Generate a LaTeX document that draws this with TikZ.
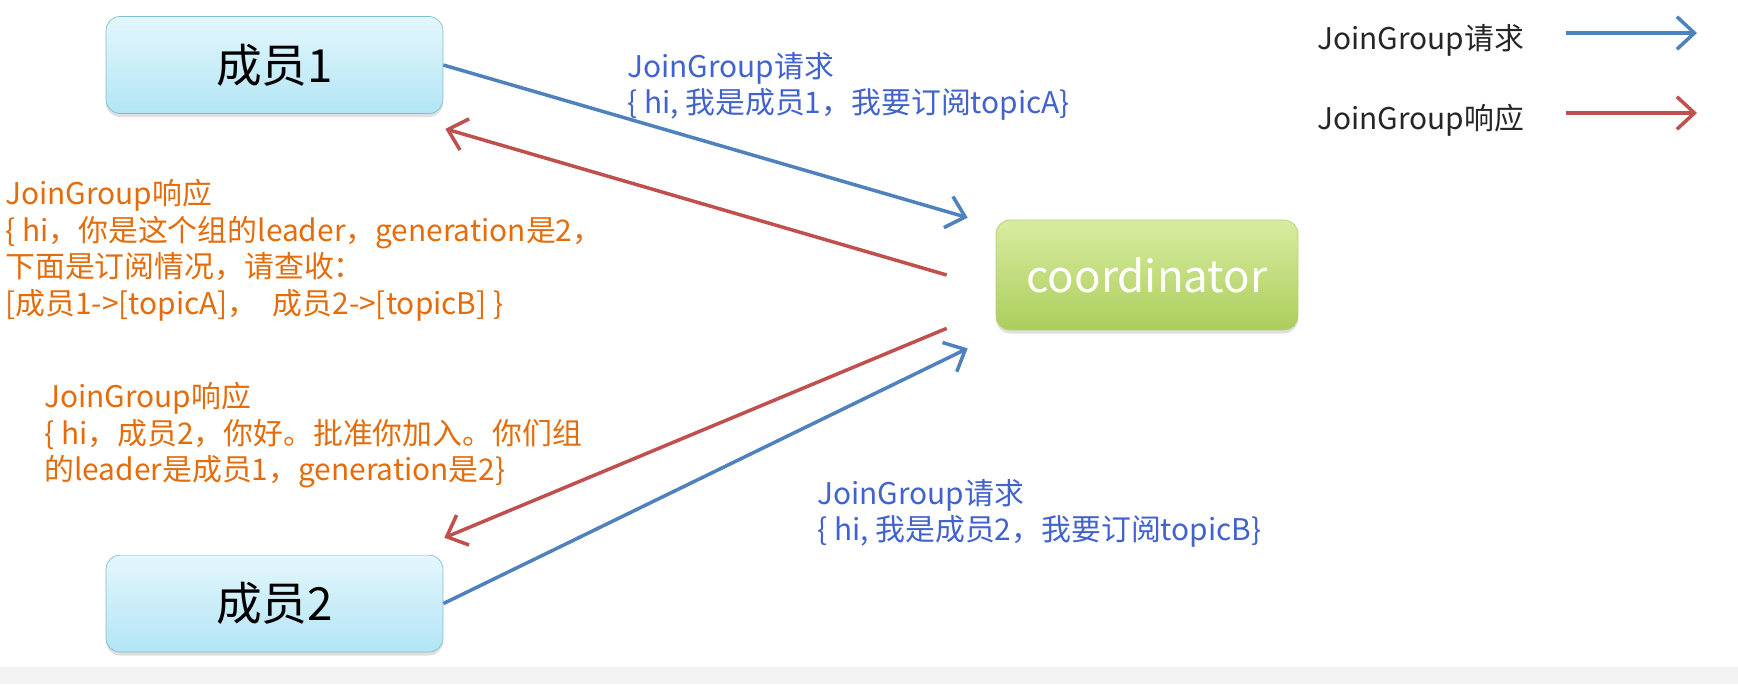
\documentclass[tikz,border=0pt]{standalone}
\usepackage{fontspec}
\setmainfont{Noto Sans CJK SC}
\usetikzlibrary{arrows.meta,positioning,shadows}
\usepackage{xcolor}
\definecolor{reqblue}{RGB}{79,129,189}
\definecolor{respred}{RGB}{192,80,77}
\definecolor{reqtext}{RGB}{66,98,206}
\definecolor{resptext}{RGB}{228,108,10}
\definecolor{membertop}{RGB}{228,247,252}
\definecolor{memberbot}{RGB}{178,229,245}
\definecolor{memberline}{RGB}{125,190,208}
\definecolor{coordtop}{RGB}{216,236,160}
\definecolor{coordbot}{RGB}{172,206,92}
\definecolor{coordline}{RGB}{178,208,112}
\definecolor{footgray}{RGB}{243,243,243}

\begin{document}
\begin{tikzpicture}[x=0.02cm, y=-0.02cm,
    member/.style={rectangle, rounded corners=8pt, minimum width=6.74cm, minimum height=1.94cm, draw=memberline, top color=membertop, bottom color=memberbot, text centered, font=\fontsize{26}{30}\selectfont, drop shadow={shadow xshift=0pt, shadow yshift=-2pt, opacity=0.25}},
    coordbox/.style={rectangle, rounded corners=8pt, minimum width=6.04cm, minimum height=2.2cm, draw=coordline, top color=coordtop, bottom color=coordbot, text=white, text centered, font=\fontsize{25}{30}\selectfont, drop shadow={shadow xshift=0pt, shadow yshift=-2pt, opacity=0.25}},
    msg/.style={anchor=north west, inner sep=0pt, align=left, font=\fontsize{17}{20.8}\selectfont},
    legend/.style={anchor=west, inner sep=0pt, text=black!85, font=\fontsize{17}{20.8}\selectfont},
    req/.style={draw=reqblue, line width=2pt, -{Straight Barb[length=3.5mm,width=6.5mm]}},
    resp/.style={draw=respred, line width=2pt, -{Straight Barb[length=3.5mm,width=6.5mm]}}
]
\useasboundingbox (0,0) rectangle (1738,684);
\fill[footgray] (0,667) rectangle (1738,684);

% === MEMBERS & COORDINATOR ===
\node (mem1) [member] at (274.5,65) {成员1};
\node (mem2) [member, below=8.82cm of mem1] {成员2};
\node (coordinator) [coordbox] at (1147,275) {coordinator};

% === JOINGROUP ARROWS ===
\draw[req] (mem1.east) -- ([xshift=-0.56cm, yshift=0.04cm]coordinator.north west);
\draw[resp] ([xshift=-0.98cm]coordinator.west) -- ([xshift=0.04cm, yshift=-0.3cm]mem1.south east);
\draw[resp] ([xshift=-0.98cm, yshift=0.04cm]coordinator.south west) -- ([xshift=0.02cm, yshift=0.34cm]mem2.north east);
\draw[req] (mem2.east) -- ([xshift=-0.56cm, yshift=-0.36cm]coordinator.south west);

% messages
\node (reqmsgA) [msg, text=reqtext] at (627,52) {JoinGroup请求\\\{ hi, 我是成员1，我要订阅topicA\}};
\node (respmsgA) [msg, text=resptext] at (5,179) {JoinGroup响应\\\{ hi，你是这个组的leader，generation是2，\\下面是订阅情况，请查收：\\{[}成员1->[topicA]，\enspace 成员2->[topicB] \}};
\node (respmsgB) [msg, text=resptext] at (44,382) {JoinGroup响应\\\{ hi，成员2，你好。批准你加入。你们组\\的leader是成员1，generation是2\}};
\node (reqmsgB) [msg, text=reqtext] at (817,479) {JoinGroup请求\\\{ hi, 我是成员2，我要订阅topicB\}};

% === LEGEND ===
\node (legreq) [legend] at (1317,40) {JoinGroup请求};
\node (legresp) [legend] at (1317,120) {JoinGroup响应};
\coordinate (legreqA) at (1566,33);
\coordinate (legreqB) at (1697,33);
\coordinate (legrespA) at (1566,113);
\coordinate (legrespB) at (1697,113);
\draw[req] (legreqA) -- (legreqB);
\draw[resp] (legrespA) -- (legrespB);

\end{tikzpicture}
\end{document}
